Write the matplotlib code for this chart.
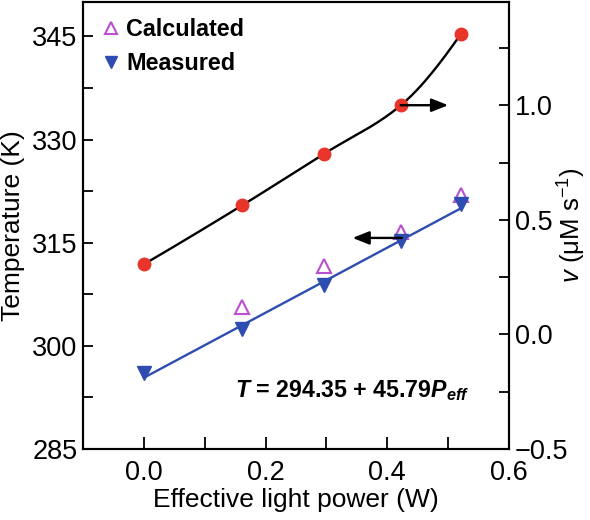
import numpy as np
import matplotlib
matplotlib.use("Agg")
import matplotlib.pyplot as plt
from matplotlib.ticker import MultipleLocator

plt.rcParams['font.family'] = ['Liberation Sans', 'DejaVu Sans']
plt.rcParams['mathtext.fontset'] = 'custom'
plt.rcParams['mathtext.rm'] = 'Liberation Sans'
plt.rcParams['mathtext.it'] = 'Liberation Sans:italic'
plt.rcParams['mathtext.bf'] = 'Liberation Sans:italic:bold'

# data
power = [0.0, 0.162, 0.296, 0.422, 0.521]
temp_measured = [296.0, 302.5, 308.8, 315.2, 320.6]
power_calc = [0.162, 0.296, 0.422, 0.521]
temp_calc = [305.7, 311.6, 316.6, 321.9]
rate = [0.306, 0.564, 0.788, 0.999, 1.311]

red = '#E8352A'
blue = '#2E4DB0'
magenta = '#B850D0'


def pchip(x, y, xn):
    # monotone cubic hermite curve through the points
    x = np.asarray(x, float)
    y = np.asarray(y, float)
    h = np.diff(x)
    d = np.diff(y) / h
    m = np.zeros_like(y)
    for i in range(1, len(x) - 1):
        if d[i - 1] * d[i] > 0:
            w1 = 2 * h[i] + h[i - 1]
            w2 = h[i] + 2 * h[i - 1]
            m[i] = (w1 + w2) / (w1 / d[i - 1] + w2 / d[i])
    m[0] = ((2 * h[0] + h[1]) * d[0] - h[0] * d[1]) / (h[0] + h[1])
    m[-1] = ((2 * h[-1] + h[-2]) * d[-1] - h[-1] * d[-2]) / (h[-1] + h[-2])
    idx = np.clip(np.searchsorted(x, xn) - 1, 0, len(h) - 1)
    t = (xn - x[idx]) / h[idx]
    h00 = 2 * t**3 - 3 * t**2 + 1
    h10 = t**3 - 2 * t**2 + t
    h01 = -2 * t**3 + 3 * t**2
    h11 = t**3 - t**2
    return h00 * y[idx] + h10 * h[idx] * m[idx] + h01 * y[idx + 1] + h11 * h[idx] * m[idx + 1]


fig = plt.figure(figsize=(5.9, 5.2), dpi=100)
ax = fig.add_axes([0.1407, 0.1365, 0.722, 0.8595])
ax2 = ax.twinx()

# linear fit to measured temperature
k, b = np.polyfit(power, temp_measured, 1)
xs = np.linspace(power[0], power[-1], 50)
ax.plot(xs, k * xs + b, color=blue, lw=1.7, zorder=2)
ax.plot(power_calc, temp_calc, linestyle='none', marker='^', ms=10,
        mfc='none', mec=magenta, mew=1.5, label='Calculated', zorder=3)
ax.plot(power, temp_measured, linestyle='none', marker='v', ms=10,
        color=blue, label='Measured', zorder=3)

# smooth curve through the rate data
xc = np.linspace(power[0], power[-1], 200)
ax2.plot(xc, pchip(power, rate, xc), color='black', lw=1.7, zorder=2)
ax2.plot(power, rate, linestyle='none', marker='o', ms=9, color=red, zorder=3)

ax.set_xlim(-0.1, 0.6)
ax.set_ylim(285, 350)
ax2.set_ylim(-0.5, 1.45)

ax.xaxis.set_major_locator(MultipleLocator(0.2))
ax.xaxis.set_minor_locator(MultipleLocator(0.1))
ax.yaxis.set_major_locator(MultipleLocator(15))
ax.yaxis.set_minor_locator(MultipleLocator(7.5))
ax2.yaxis.set_major_locator(MultipleLocator(0.5))
ax2.yaxis.set_minor_locator(MultipleLocator(0.25))

for a in (ax, ax2):
    a.tick_params(which='both', direction='in', length=7, width=1.3,
                  labelsize=19.5, pad=4)
    for s in a.spines.values():
        s.set_linewidth(1.5)
ax.tick_params(axis='x', which='both', length=9, pad=8)
ax.xaxis.set_major_formatter(plt.FuncFormatter(lambda v, p: f'{v:.1f}'))
ax2.yaxis.set_major_formatter(plt.FuncFormatter(lambda v, p: f'{v:.1f}'.replace('-', '\u2212')))

ax.set_xlabel('Effective light power (W)', fontsize=19, labelpad=1)
ax.set_ylabel('Temperature (K)', fontsize=19, labelpad=5)
ax2.set_ylabel(r'$v$ (μM s$^{-1}$)', fontsize=18.5)
ax2.yaxis.set_label_coords(1.11, 0.5)

# arrows pointing to the axes
arrow = dict(arrowstyle='-|>,head_length=0.5,head_width=0.2', color='black', lw=1.7,
             mutation_scale=20, shrinkA=0, shrinkB=0)
ax2.annotate('', xy=(0.50, 1.0), xytext=(0.422, 1.0), arrowprops=arrow)
ax.annotate('', xy=(0.343, 315.7), xytext=(0.424, 315.7), arrowprops=arrow)

ax.text(0.357, 0.116, r'$\mathbf{T}$ = 294.35 + 45.79$\mathbf{P_{eff}}$',
        transform=ax.transAxes, fontsize=16.7, fontweight='bold')

ax.legend(loc='upper left', frameon=False, prop={'weight': 'bold', 'size': 16.8},
          handletextpad=0.15, labelspacing=0.45, borderaxespad=0.4,
          handlelength=1.0, markerscale=0.85, borderpad=0.3)

fig.savefig('out.png', dpi=100)
